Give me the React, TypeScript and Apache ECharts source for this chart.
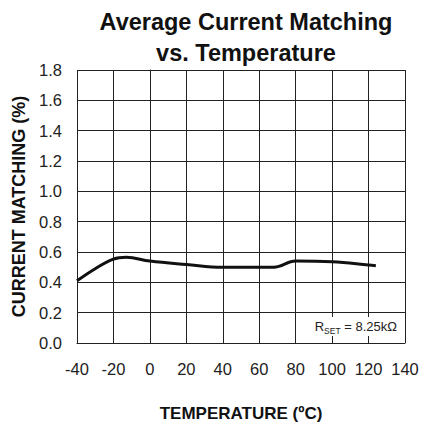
import React, { useEffect, useRef } from "react";
import * as echarts from "echarts";

const temps = [-40, -30, -20, -13, 0, 20, 40, 60, 68, 80, 100, 120, 124];
const matching = [0.41, 0.49, 0.553, 0.565, 0.54, 0.518, 0.5, 0.5, 0.5, 0.54, 0.535, 0.515, 0.51];
const xTicks = [-40, -20, 0, 20, 40, 60, 80, 100, 120, 140];
const yTicks = [0, 0.2, 0.4, 0.6, 0.8, 1.0, 1.2, 1.4, 1.6, 1.8];

const FONT = "'Liberation Sans', Arial, sans-serif";

export default function App() {
  const ref = useRef<HTMLDivElement>(null);
  useEffect(() => {
    if (!ref.current) return;
    const chart = echarts.init(ref.current, undefined, { renderer: "svg" });
    chart.setOption({
      animation: false,
      backgroundColor: "#fff",
      textStyle: { fontFamily: FONT },
      title: {
        text: "Average Current Matching\nvs. Temperature",
        left: 241,
        top: 1,
        textAlign: "center",
        textStyle: { fontFamily: FONT, fontSize: 23.5, fontWeight: "bold", color: "#111", lineHeight: 31 },
      },
      grid: { left: 77, right: 24, top: 70, bottom: 86 },
      xAxis: {
        type: "value",
        min: xTicks[0],
        max: xTicks[xTicks.length - 1],
        interval: 20,
        name: "TEMPERATURE (ºC)",
        nameLocation: "middle",
        nameGap: 62,
        nameTextStyle: { fontFamily: FONT, fontSize: 17, fontWeight: "bold", color: "#111" },
        axisLine: { show: true, lineStyle: { color: "#222", width: 1 } },
        axisTick: { show: false },
        axisLabel: { fontFamily: FONT, fontSize: 16.5, color: "#222", margin: 17 },
        splitLine: { show: true, lineStyle: { color: "#222", width: 1 } },
      },
      yAxis: {
        type: "value",
        min: yTicks[0],
        max: yTicks[yTicks.length - 1],
        interval: 0.2,
        name: "CURRENT MATCHING (%)",
        nameLocation: "middle",
        nameGap: 44,
        nameTextStyle: { fontFamily: FONT, fontSize: 18, fontWeight: "bold", color: "#111" },
        axisLine: { show: true, lineStyle: { color: "#222", width: 1 } },
        axisTick: { show: false },
        axisLabel: { fontFamily: FONT, fontSize: 16.5, color: "#222", margin: 15, formatter: (v: number) => v.toFixed(1) },
        splitLine: { show: true, lineStyle: { color: "#222", width: 1 } },
      },
      graphic: [
        {
          type: "text",
          right: 28,
          top: 317,
          z: 100,
          style: {
            text: "{r|R}{s|SET}{r| = 8.25kΩ}",
            backgroundColor: "#fff",
            padding: [3, 4, 3, 6],
            rich: {
              r: { fontFamily: FONT, fontSize: 13, fill: "#222", verticalAlign: "bottom" },
              s: { fontFamily: FONT, fontSize: 8.5, fill: "#222", verticalAlign: "bottom", padding: [0, 0, -2, 0] },
            },
          },
        },
      ],
      series: [
        {
          type: "line",
          data: temps.map((t, i) => [t, matching[i]]),
          smooth: 0.4,
          showSymbol: false,
          lineStyle: { color: "#111", width: 3 },
          z: 5,
        },
      ],
    });
    return () => chart.dispose();
  }, []);
  return <div ref={ref} style={{ position: "absolute", left: 0, top: 0, width: 429, height: 429 }} />;
}
